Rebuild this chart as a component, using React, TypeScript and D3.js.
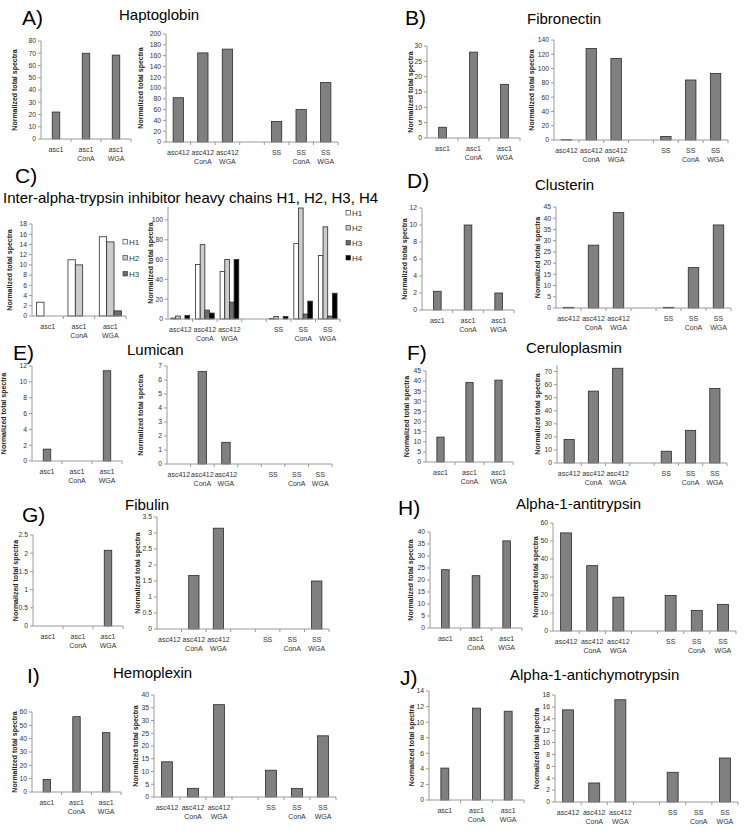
import React from "react";
import * as d3 from "d3";

// ---------- categories ----------
const LEFT_CATS = ["asc1", "asc1\nConA", "asc1\nWGA"];
const RIGHT_CATS = ["asc412", "asc412\nConA", "asc412\nWGA", "", "SS", "SS\nConA", "SS\nWGA"];
const HEAVY_CHAINS = ["H1", "H2", "H3", "H4"];

// ---------- values (normalized total spectra) ----------
const haptoLeft = [22, 70, 68.5];
const haptoRight = [82, 165, 172, 0, 38, 60, 110];
const fibroLeft = [3.5, 28, 17.5];
const fibroRight = [0.5, 128, 114, 0, 5, 84, 93];
const itihLeftH1 = [2.7, 11, 15.5];
const itihLeftH2 = [0, 10, 14.5];
const itihLeftH3 = [0, 0, 1];
const itihRightH1 = [1, 55, 48, 0, 0.5, 76, 64];
const itihRightH2 = [3, 75, 60, 0, 2.5, 112, 93];
const itihRightH3 = [0, 9, 17, 0, 0, 5, 3];
const itihRightH4 = [3.5, 6, 60, 0, 2.5, 18, 26];
const clustLeft = [2.2, 10, 2];
const clustRight = [0.3, 28, 42.5, 0, 0.3, 18, 37];
const lumLeft = [1.5, 0, 11.4];
const lumRight = [0, 6.6, 1.55, 0, 0, 0, 0];
const ceruLeft = [12.3, 39.3, 40.5];
const ceruRight = [18, 55, 72.5, 0, 9, 25, 57];
const fibuLeft = [0, 0, 2.08];
const fibuRight = [0, 1.67, 3.15, 0, 0, 0, 1.5];
const a1atLeft = [24.3, 21.8, 36.3];
const a1atRight = [54.5, 36.3, 18.8, 0, 19.7, 11.4, 14.8];
const hemoLeft = [9.5, 56.5, 44.5];
const hemoRight = [13.8, 3.4, 36.2, 0, 10.5, 3.3, 24];
const a1actLeft = [4.1, 11.8, 11.4];
const a1actRight = [15.5, 3.2, 17.2, 0, 5, 0, 7.4];

// ---------- styles ----------
const FONT = "Arial, 'Liberation Sans', sans-serif";
const BAR = "#808080";
const BAR_STROKE = "#2b2b2b";
const HC_FILLS = ["#ffffff", "#cccccc", "#6e6e6e", "#000000"];
const AXIS = "#9a9a9a";
const TXT = "#333";

type Ser = { values: number[]; fill: string };
type Cfg = {
  cats: string[];
  series: Ser[];
  x0: number; x1: number; yTop: number; yZero: number;
  max: number; step: number; tickMax?: number; labelX: number; barFrac: number;
};

const one = (v: number[]): Ser[] => [{ values: v, fill: BAR }];

const charts: Cfg[] = [
  { cats: LEFT_CATS, series: one(haptoLeft), x0: 41, x1: 131, yTop: 41, yZero: 139, max: 80, step: 10, labelX: 14.5, barFrac: 0.25 },
  { cats: RIGHT_CATS, series: one(haptoRight), x0: 166, x1: 338, yTop: 34, yZero: 142, max: 200, step: 20, labelX: 141, barFrac: 0.42 },
  { cats: LEFT_CATS, series: one(fibroLeft), x0: 427, x1: 520, yTop: 46, yZero: 138, max: 30, step: 5, labelX: 411, barFrac: 0.25 },
  { cats: RIGHT_CATS, series: one(fibroRight), x0: 554, x1: 728, yTop: 40, yZero: 140, max: 140, step: 20, labelX: 532, barFrac: 0.42 },
  { cats: LEFT_CATS, series: [itihLeftH1, itihLeftH2, itihLeftH3].map((v, i) => ({ values: v, fill: HC_FILLS[i] })), x0: 32, x1: 126, yTop: 224, yZero: 316, max: 18, step: 2, labelX: 10, barFrac: 0.235 },
  { cats: RIGHT_CATS, series: [itihRightH1, itihRightH2, itihRightH3, itihRightH4].map((v, i) => ({ values: v, fill: HC_FILLS[i] })), x0: 168, x1: 340, yTop: 207, yZero: 319, max: 113, step: 20, tickMax: 100, labelX: 151, barFrac: 0.19 },
  { cats: LEFT_CATS, series: one(clustLeft), x0: 422, x1: 514, yTop: 208, yZero: 310, max: 12, step: 2, labelX: 405, barFrac: 0.25 },
  { cats: RIGHT_CATS, series: one(clustRight), x0: 556, x1: 731, yTop: 207, yZero: 308, max: 45, step: 5, labelX: 538, barFrac: 0.42 },
  { cats: LEFT_CATS, series: one(lumLeft), x0: 32, x1: 122, yTop: 366, yZero: 461, max: 12, step: 2, labelX: 4, barFrac: 0.25 },
  { cats: RIGHT_CATS, series: one(lumRight), x0: 167, x1: 332, yTop: 366, yZero: 464, max: 7, step: 1, labelX: 141, barFrac: 0.36 },
  { cats: LEFT_CATS, series: one(ceruLeft), x0: 426, x1: 513, yTop: 371, yZero: 462, max: 45, step: 5, labelX: 406.5, barFrac: 0.25 },
  { cats: RIGHT_CATS, series: one(ceruRight), x0: 557, x1: 727, yTop: 365, yZero: 463, max: 75, step: 10, tickMax: 70, labelX: 538, barFrac: 0.42 },
  { cats: LEFT_CATS, series: one(fibuLeft), x0: 33, x1: 123, yTop: 535, yZero: 626, max: 2.5, step: 0.5, labelX: 15.5, barFrac: 0.25 },
  { cats: RIGHT_CATS, series: one(fibuRight), x0: 157, x1: 329, yTop: 517, yZero: 629, max: 3.5, step: 0.5, labelX: 137.5, barFrac: 0.42 },
  { cats: LEFT_CATS, series: one(a1atLeft), x0: 430, x1: 522, yTop: 532, yZero: 628, max: 40, step: 5, labelX: 411, barFrac: 0.25 },
  { cats: RIGHT_CATS, series: one(a1atRight), x0: 553, x1: 736, yTop: 523, yZero: 631, max: 60, step: 10, labelX: 535.5, barFrac: 0.42 },
  { cats: LEFT_CATS, series: one(hemoLeft), x0: 32, x1: 121, yTop: 712, yZero: 792, max: 60, step: 10, labelX: 14.5, barFrac: 0.25 },
  { cats: RIGHT_CATS, series: one(hemoRight), x0: 154, x1: 336, yTop: 695, yZero: 797, max: 40, step: 5, labelX: 135.5, barFrac: 0.42 },
  { cats: LEFT_CATS, series: one(a1actLeft), x0: 429, x1: 524, yTop: 691, yZero: 800, max: 14, step: 2, labelX: 412, barFrac: 0.25 },
  { cats: RIGHT_CATS, series: one(a1actRight), x0: 555, x1: 738, yTop: 695, yZero: 802, max: 18, step: 2, labelX: 537, barFrac: 0.42 },
];

const letters = [
  { t: "A)", x: 22, y: 25 }, { t: "B)", x: 405, y: 25 },
  { t: "C)", x: 15, y: 183 }, { t: "D)", x: 407, y: 188 },
  { t: "E)", x: 13, y: 360 }, { t: "F)", x: 407, y: 360 },
  { t: "G)", x: 22, y: 522 }, { t: "H)", x: 398, y: 515 },
  { t: "I)", x: 27, y: 683 }, { t: "J)", x: 400, y: 685 },
];

const titles = [
  { t: "Haptoglobin", x: 119, y: 20 },
  { t: "Fibronectin", x: 527, y: 24 },
  { t: "Inter-alpha-trypsin inhibitor heavy chains H1, H2, H3, H4", x: 3, y: 203 },
  { t: "Clusterin", x: 535, y: 190 },
  { t: "Lumican", x: 127, y: 355 },
  { t: "Ceruloplasmin", x: 526, y: 353 },
  { t: "Fibulin", x: 125, y: 510 },
  { t: "Alpha-1-antitrypsin", x: 516, y: 509 },
  { t: "Hemoplexin", x: 113, y: 678 },
  { t: "Alpha-1-antichymotrypsin", x: 510, y: 680 },
];

const legends = [
  { x: 123, ys: [242, 258, 274], n: 3 },
  { x: 346, ys: [213, 228, 243, 258], n: 4 },
];

const fmt = d3.format("~g");

function BarChart({ c }: { c: Cfg }) {
  const x = d3.scaleBand<string>().domain(c.cats.map((d, i) => String(i))).range([c.x0, c.x1]).paddingInner(0).paddingOuter(0);
  const y = d3.scaleLinear().domain([0, c.max]).range([c.yZero, c.yTop]);
  const bw = x.bandwidth();
  const barW = bw * c.barFrac;
  const groupW = barW * c.series.length;
  const ticks = d3.range(0, (c.tickMax ?? c.max) + c.step / 2, c.step);
  const midY = (c.yTop + c.yZero) / 2;
  return (
    <g>
      {c.series.map((s, si) =>
        s.values.map((v, i) => {
          if (!v) return null;
          const bx = (x(String(i)) as number) + bw / 2 - groupW / 2 + si * barW;
          return (
            <rect key={`${si}-${i}`} x={bx} y={y(v)} width={barW} height={c.yZero - y(v)}
              fill={s.fill} stroke={BAR_STROKE} strokeWidth={0.8} />
          );
        })
      )}
      <line x1={c.x0} x2={c.x0} y1={c.yTop} y2={c.yZero} stroke={AXIS} strokeWidth={1} />
      {ticks.map((t) => (
        <g key={t}>
          <line x1={c.x0 - 3} x2={c.x0} y1={y(t)} y2={y(t)} stroke={AXIS} />
          <text x={c.x0 - 5} y={y(t)} dy="0.35em" textAnchor="end" fontSize={6.8} fill={TXT} fontFamily={FONT}>{fmt(t)}</text>
        </g>
      ))}
      <line x1={c.x0} x2={c.x1} y1={c.yZero} y2={c.yZero} stroke={AXIS} strokeWidth={1} />
      {c.cats.map((cat, i) => {
        const bx = x(String(i)) as number;
        return (
          <g key={i}>
            <line x1={bx + bw} x2={bx + bw} y1={c.yZero} y2={c.yZero + 3} stroke={AXIS} />
            {cat.split("\n").map((ln, li) => (
              <text key={li} x={bx + bw / 2} y={c.yZero + 12.5 + li * 9} textAnchor="middle" fontSize={7} fill={TXT} fontFamily={FONT}>{ln}</text>
            ))}
          </g>
        );
      })}
      <text transform={`translate(${c.labelX},${midY}) rotate(-90)`} textAnchor="middle" dy="0.35em"
        fontSize={7} fontWeight="bold" fill="#222" fontFamily={FONT}>Normalized total spectra</text>
    </g>
  );
}

export default function App() {
  return (
    <svg width={747} height={831} style={{ position: "absolute", left: 0, top: 0, background: "#fff" }}>
      <rect x={0} y={0} width={747} height={831} fill="#fff" />
      {charts.map((c, i) => <BarChart key={i} c={c} />)}
      {letters.map((l) => (
        <text key={l.t} x={l.x} y={l.y} fontSize={21} fontFamily={FONT} fill="#000">{l.t}</text>
      ))}
      {titles.map((t) => (
        <text key={t.t} x={t.x} y={t.y} fontSize={15} fontFamily={FONT} fill="#000">{t.t}</text>
      ))}
      {legends.map((lg, li) => (
        <g key={li}>
          {lg.ys.slice(0, lg.n).map((yy, i) => (
            <g key={i}>
              <rect x={lg.x} y={yy - 2.5} width={4.5} height={4.5} fill={HC_FILLS[i]} stroke={BAR_STROKE} strokeWidth={0.6} />
              <text x={lg.x + 6} y={yy} dy="0.35em" fontSize={8} fill={TXT} fontFamily={FONT}>{HEAVY_CHAINS[i]}</text>
            </g>
          ))}
        </g>
      ))}
    </svg>
  );
}
